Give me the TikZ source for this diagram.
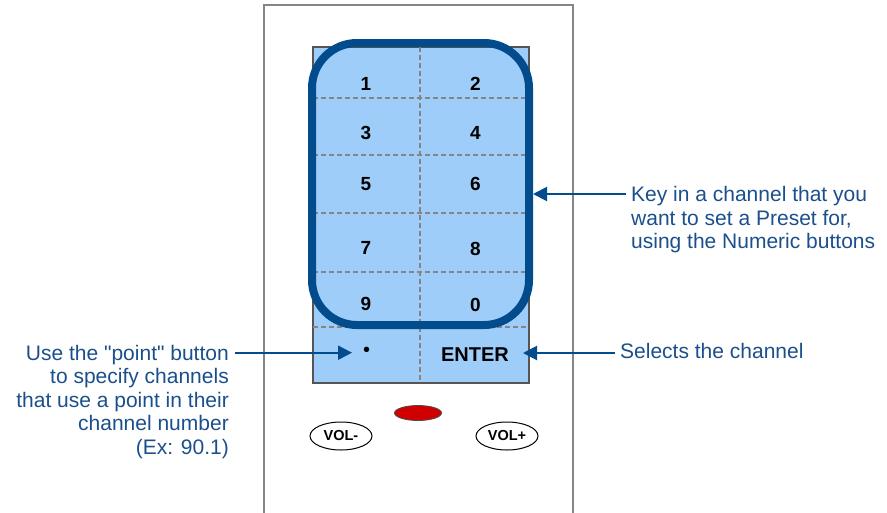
\documentclass[tikz,border=0pt]{standalone}
\usepackage{fontspec}
\setmainfont{Liberation Sans}
\usetikzlibrary{arrows.meta,shapes.geometric}
\definecolor{padfill}{HTML}{9FCDFA}
\definecolor{ringblue}{HTML}{024B8C}
\definecolor{labelblue}{HTML}{1B4F8C}
\definecolor{remotegray}{HTML}{858585}
\definecolor{padedge}{HTML}{555555}
\definecolor{dashgray}{HTML}{858585}
\definecolor{ledred}{HTML}{D00000}
\begin{document}
\begin{tikzpicture}[x=1pt,y=-1pt,
  padbox/.style={draw=padedge,line width=1.3pt,fill=padfill,minimum width=216pt,minimum height=336pt,inner sep=0pt},
  ring/.style={draw=ringblue,line width=8pt,rounded corners=45pt,minimum width=217pt,minimum height=282pt,inner sep=0pt},
  dashline/.style={dashgray,line width=1.2pt,dash pattern=on 5pt off 3pt},
  digit/.style={font=\bfseries\fontsize{19}{19}\selectfont,inner sep=0pt},
  callout/.style={ringblue,line width=2pt,-{Triangle[length=14pt,width=14pt]}},
  label/.style={text=labelblue,font=\fontsize{21}{23.4}\selectfont,inner sep=0pt},
  volbtn/.style={ellipse,draw=black,line width=1pt,minimum width=62pt,minimum height=28pt,inner sep=0pt,font=\bfseries\fontsize{14.5}{14.5}\selectfont}
]
\useasboundingbox (0,0) rectangle (887,512);
% remote body
\draw[remotegray,line width=2pt] (264,513) -- (264,5) -- (573,5) -- (573,513);
% keypad
\node[padbox] (pad) at (421,215) {};
\draw[dashline] (420,47) -- (420,383);
\foreach \yy in {98,155,213,272,327}
  \draw[dashline] (313,\yy) -- (529,\yy);
% numeric ring
\node[ring] (numpad) at (420.5,184) {};
% keys
\node[digit] (k1) at (366,84) {1};
\node[digit] (k2) at (475.5,84) {2};
\node[digit] (k3) at (366,132.5) {3};
\node[digit] (k4) at (475.5,132.5) {4};
\node[digit] (k5) at (366,184) {5};
\node[digit] (k6) at (475.5,184) {6};
\node[digit] (k7) at (366,247.5) {7};
\node[digit] (k8) at (475.5,249) {8};
\node[digit] (k9) at (366,303.5) {9};
\node[digit] (k0) at (475.5,305) {0};
\node[font=\fontsize{20}{20}\selectfont,inner sep=0pt] (kdot) at (366.5,352) {•};
\node[font=\bfseries\fontsize{20}{20}\selectfont,inner sep=0pt] (kenter) at (475,354.3) {ENTER};
% lower buttons
\node[ellipse,draw=black!70,line width=0.8pt,fill=ledred,minimum width=47pt,minimum height=15pt,inner sep=0pt] (led) at (418,413) {};
\node[volbtn] (volm) at (341,436) {VOL-};
\node[volbtn] (volp) at (507,436) {VOL+};
% labels
\node[label,anchor=north west,align=left] (keylab) at (631,186.4) {Key in a channel that you\\want to set a Preset for,\\using the Numeric buttons};
\node[label,anchor=north west,align=left] (sellab) at (620,343.5) {Selects the channel};
\node[label,anchor=north east,align=right] (ptlab) at (229,345) {Use the \textquotedbl point\textquotedbl{} button\\to specify channels\\that use a point in their\\channel number\\(Ex: 90.1)};
% callouts
\coordinate (keystart) at (626,194);
\coordinate (selstart) at (615,353);
\coordinate (seltip) at (523,353);
\coordinate (ptstart) at (235,352.7);
\coordinate (pttip) at (352,352.7);
\draw[callout] (keystart) -- (numpad.east |- keystart);
\draw[callout] (selstart) -- (seltip);
\draw[callout] (ptstart) -- (pttip);
\end{tikzpicture}
\end{document}
